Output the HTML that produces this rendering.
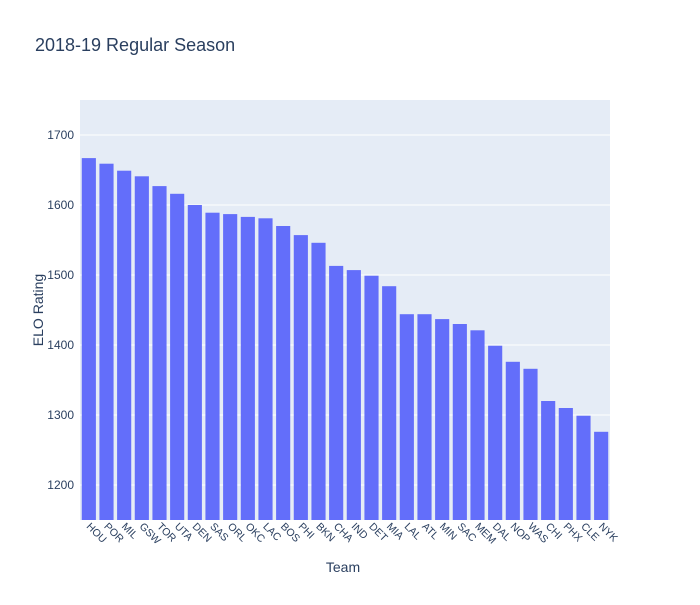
<!DOCTYPE html>
<html><head><meta charset="utf-8"><style>
body{margin:0;background:#fff;font-family:"Liberation Sans",Arial,sans-serif}
</style></head><body>
<svg id="chart" width="700" height="600" xmlns="http://www.w3.org/2000/svg">
<rect width="700" height="600" fill="#fff"/>
<text x="35" y="51" font-size="18" fill="#2a3f5f">2018-19 Regular Season</text>
<rect x="80" y="100" width="530" height="420" fill="#e5ecf6"/>
<g id="grid"></g><g id="bars"></g><g id="xt"></g><g id="yt"></g>
<text x="343" y="572" font-size="14" fill="#2a3f5f" text-anchor="middle">Team</text>
<text transform="translate(43,310) rotate(-90)" font-size="14" fill="#2a3f5f" text-anchor="middle">ELO Rating</text>
</svg>
<script>
const teams=["HOU","POR","MIL","GSW","TOR","UTA","DEN","SAS","ORL","OKC","LAC","BOS","PHI","BKN","CHA","IND","DET","MIA","LAL","ATL","MIN","SAC","MEM","DAL","NOP","WAS","CHI","PHX","CLE","NYK"];
const elo=[1667,1659,1649,1641,1627,1616,1600,1589,1587,1583,1581,1570,1557,1546,1513,1507,1499,1484,1444,1444,1437,1430,1421,1399,1376,1366,1320,1310,1299,1276];
const yTicks=[1200,1300,1400,1500,1600,1700];
const NS="http://www.w3.org/2000/svg";
const x0=80,w=530,yTop=100,h=420,yMin=1150,yMax=1750;
const y=v=>yTop+h*(yMax-v)/(yMax-yMin);
const band=w/teams.length;
const xc=i=>x0+band*(i+0.5);
function mk(t,a,p){const e=document.createElementNS(NS,t);for(const k in a)e.setAttribute(k,a[k]);p.appendChild(e);return e;}
const grid=document.getElementById('grid'),yt=document.getElementById('yt'),bars=document.getElementById('bars'),xt=document.getElementById('xt');
yTicks.forEach(v=>{
 const l=mk('line',{x1:x0,x2:x0+w,y1:y(v),y2:y(v),stroke:'#fff','stroke-width':1},grid);
 
 
 const t=mk('text',{x:x0-6,y:y(v)+4,'font-size':12,fill:'#2a3f5f','text-anchor':'end'},yt);
 t.textContent=v;
 
 
});
teams.forEach((tm,i)=>{
 const bw=band*0.8;
 const r=mk('rect',{x:xc(i)-bw/2,y:y(elo[i]),width:bw,height:y(yMin)-y(elo[i]),fill:'#636efa'},bars);
 
 
 const t=mk('text',{transform:`translate(${xc(i)-3},${527}) rotate(45)`,'font-size':10.5,fill:'#2a3f5f'},xt);
 t.textContent=tm;
 
 
});
</script>
</body></html>
